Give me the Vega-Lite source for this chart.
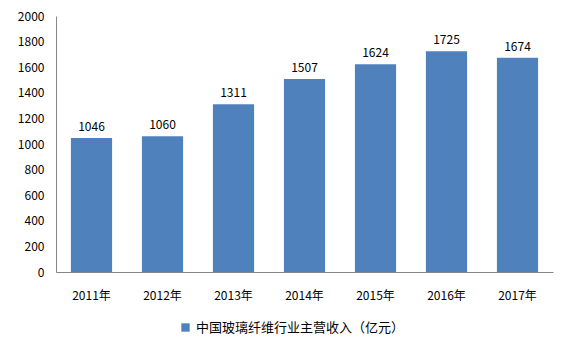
{
  "$schema": "https://vega.github.io/schema/vega-lite/v6.json",
  "width": 497,
  "height": 256,
  "autosize": "none",
  "padding": {"left": 56, "top": 16, "right": 18, "bottom": 80},
  "background": "white",
  "config": {
    "font": "Noto Sans CJK SC",
    "view": {"stroke": null}
  },
  "data": {
    "values": [
      {"year": "2011年", "value": 1046, "series": "中国玻璃纤维行业主营收入（亿元）"},
      {"year": "2012年", "value": 1060, "series": "中国玻璃纤维行业主营收入（亿元）"},
      {"year": "2013年", "value": 1311, "series": "中国玻璃纤维行业主营收入（亿元）"},
      {"year": "2014年", "value": 1507, "series": "中国玻璃纤维行业主营收入（亿元）"},
      {"year": "2015年", "value": 1624, "series": "中国玻璃纤维行业主营收入（亿元）"},
      {"year": "2016年", "value": 1725, "series": "中国玻璃纤维行业主营收入（亿元）"},
      {"year": "2017年", "value": 1674, "series": "中国玻璃纤维行业主营收入（亿元）"}
    ]
  },
  "encoding": {
    "x": {
      "field": "year", "type": "nominal", "sort": null,
      "scale": {"paddingInner": 0.42, "paddingOuter": 0.21},
      "axis": {"title": null, "labelAngle": 0, "ticks": false, "domainColor": "#868686", "labelPadding": 18, "labelFontSize": 12, "labelColor": "#000", "grid": false}
    },
    "y": {
      "field": "value", "type": "quantitative",
      "scale": {"domain": [0, 2000]},
      "axis": {"title": null, "format": "d", "values": [0,200,400,600,800,1000,1200,1400,1600,1800,2000], "ticks": false, "grid": false, "domainColor": "#868686", "labelPadding": 12, "labelFontSize": 12, "labelColor": "#000"}
    }
  },
  "layer": [
    {
      "mark": {"type": "bar", "color": "#4F81BD"},
      "encoding": {
        "color": {
          "field": "series", "type": "nominal",
          "scale": {"range": ["#4F81BD"]},
          "legend": {"title": null, "orient": "none", "legendX": 123, "legendY": 305, "symbolType": "square", "symbolSize": 70, "labelFontSize": 13, "labelColor": "#000", "labelLimit": 400}
        }
      }
    },
    {
      "mark": {"type": "text", "baseline": "bottom", "dy": -4, "fontSize": 12, "color": "#000"},
      "encoding": {"text": {"field": "value", "type": "quantitative"}}
    }
  ]
}
